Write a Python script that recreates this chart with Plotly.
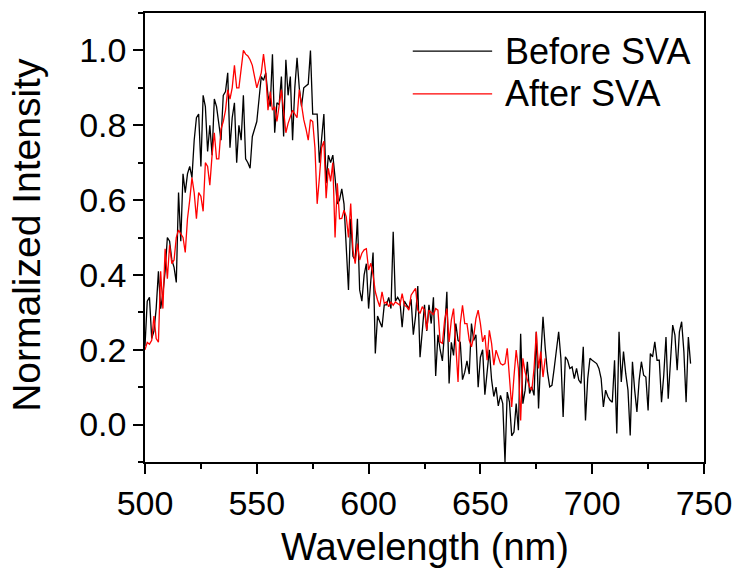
import plotly.graph_objects as go

# Before SVA (black), 1 nm steps starting at 500 nm
before_start = 500
before_sva = [
    0.21, 0.33, 0.34, 0.23, 0.25, 0.31, 0.41, 0.31, 0.35, 0.41,
    0.50, 0.49, 0.44, 0.42, 0.38, 0.62, 0.49, 0.67, 0.62, 0.67,
    0.69, 0.66, 0.76, 0.82, 0.83, 0.69, 0.88, 0.85, 0.73, 0.80,
    0.72, 0.87, 0.85, 0.80, 0.76, 0.88, 0.89, 0.94, 0.74, 0.82,
    0.86, 0.70, 0.80,
    0.76, 0.88, 0.71, 0.70, 0.685, 0.77, 0.79, 0.81, 0.87, 0.93,
    0.92, 0.94, 0.88, 0.85, 0.99, 0.78, 0.86, 0.855, 0.93, 0.77,
    0.975, 0.88, 0.93, 0.76, 0.90, 0.98, 0.90, 0.85, 0.90, 0.905,
    0.91, 1.00, 0.83, 0.83, 0.83, 0.70, 0.77, 0.83, 0.645, 0.72,
    0.70, 0.72,
    0.66, 0.59, 0.60, 0.63, 0.59, 0.48, 0.36, 0.55, 0.45, 0.44,
    0.55, 0.36, 0.33, 0.40, 0.43, 0.31, 0.40, 0.46, 0.19, 0.29,
    0.275, 0.26, 0.32, 0.32, 0.34, 0.31, 0.515, 0.33, 0.34, 0.33,
    0.26, 0.33, 0.32, 0.31, 0.335, 0.24, 0.29, 0.37, 0.18, 0.25,
    0.32, 0.25, 0.32,
    0.27, 0.34, 0.13, 0.24, 0.20, 0.17, 0.25, 0.355, 0.11, 0.22,
    0.185, 0.27, 0.225, 0.22, 0.12, 0.14, 0.17, 0.135, 0.27, 0.225,
    0.24, 0.10, 0.18, 0.20, 0.08, 0.15, 0.20, 0.12, 0.075, 0.10,
    0.05,
    0.078, 0.056, -0.10, 0.087, 0.06, -0.03, -0.02, 0.056, -0.015, 0.243,
    0.056, 0.092, 0.168, 0.083, 0.101, 0.078, 0.248, 0.043, 0.18, 0.288,
    0.204, 0.14, 0.101, 0.105, 0.15, 0.195, 0.248, 0.177, 0.020, 0.181,
    0.172, 0.150, 0.154, 0.123, 0.150, 0.119, 0.110, 0.208, 0.011, 0.123,
    0.177, 0.172, 0.168, 0.163, 0.150, 0.123, 0.047, 0.092, 0.075, 0.065,
    0.060, 0.172, -0.024, 0.248, 0.114, 0.195, 0.136, 0.092, -0.029, 0.168,
    0.092, 0.034, 0.119, 0.168, 0.132, 0.127, 0.038, 0.190, 0.181, 0.221,
    0.172, 0.172, 0.060, 0.132, 0.234, 0.069, 0.168, 0.266, 0.239, 0.145,
    0.248, 0.275, 0.195, 0.06, 0.234, 0.163,
]

# After SVA (red), 1 nm steps starting at 500 nm
after_start = 500
after_sva = [
    0.20, 0.22, 0.215, 0.225, 0.29, 0.23, 0.22, 0.41, 0.31, 0.47,
    0.39, 0.48, 0.43, 0.44, 0.50, 0.52, 0.51, 0.50, 0.46, 0.55,
    0.60, 0.66, 0.62, 0.55, 0.62, 0.61, 0.57, 0.70, 0.69, 0.64,
    0.72, 0.78, 0.71, 0.71, 0.79, 0.81, 0.84, 0.895, 0.87, 0.90,
    0.96, 0.90, 0.90,
    0.96, 1.00, 0.99, 0.985, 0.975, 0.96, 0.93, 0.90, 0.92, 0.94,
    0.99, 0.94, 0.84, 0.89, 0.84, 0.85, 0.81, 0.855, 0.895, 0.84,
    0.78, 0.805, 0.82, 0.84, 0.83, 0.82, 0.895, 0.855, 0.815, 0.79,
    0.76, 0.815, 0.81, 0.74, 0.59, 0.66, 0.74, 0.757, 0.605, 0.685,
    0.65, 0.70, 0.50,
    0.645, 0.55, 0.551, 0.573, 0.556, 0.50, 0.591, 0.467, 0.43, 0.484,
    0.44, 0.458, 0.467, 0.47, 0.413, 0.431, 0.40, 0.355, 0.333, 0.315,
    0.355, 0.324, 0.328, 0.315, 0.328, 0.319, 0.328, 0.324, 0.319, 0.350,
    0.319, 0.315, 0.306, 0.346, 0.355, 0.364, 0.306, 0.297, 0.315, 0.306,
    0.252,
    0.306, 0.30, 0.293, 0.31, 0.306, 0.221, 0.217, 0.279, 0.310, 0.221,
    0.279, 0.310, 0.208, 0.114, 0.270, 0.319, 0.270, 0.270, 0.226, 0.208,
    0.235, 0.283, 0.306, 0.270, 0.221, 0.239, 0.172, 0.252, 0.217, 0.159,
    0.199, 0.181, 0.163, 0.159, 0.163, 0.204, 0.119, 0.047, 0.127, 0.199,
    0.15, 0.011, 0.177, 0.14, 0.119, 0.101, 0.092, 0.15, 0.248, 0.15,
    0.195, 0.127, 0.177,
]

x_ticks = [500, 550, 600, 650, 700, 750]
y_ticks = [0.0, 0.2, 0.4, 0.6, 0.8, 1.0]
y_tick_labels = ["0.0", "0.2", "0.4", "0.6", "0.8", "1.0"]
series_names = ["Before SVA", "After SVA"]
series_colors = ["#000000", "#ff0000"]
x_title = "Wavelength (nm)"
y_title = "Normalized Intensity"

wl_before = list(range(before_start, before_start + len(before_sva)))
wl_after = list(range(after_start, after_start + len(after_sva)))

FONT = "Liberation Sans, Arial, sans-serif"

fig = go.Figure()
fig.add_trace(go.Scatter(x=wl_before, y=before_sva, mode="lines", name=series_names[0],
                         line=dict(color=series_colors[0], width=1.3), showlegend=False))
fig.add_trace(go.Scatter(x=wl_after, y=after_sva, mode="lines", name=series_names[1],
                         line=dict(color=series_colors[1], width=1.3), showlegend=False))

axis_common = dict(showgrid=False, zeroline=False, linecolor="black", linewidth=1.5,
                   tickcolor="black", tickwidth=1.5, automargin=False)

fig.update_layout(
    width=734, height=570,
    margin=dict(l=145, r=30, t=13, b=108, autoexpand=False),
    paper_bgcolor="white", plot_bgcolor="white",
    font=dict(family=FONT, color="black", size=30),
    xaxis=dict(range=[500, 750], tickvals=x_ticks, ticks="outside", ticklen=10,
               minor=dict(dtick=25, ticks="outside", ticklen=5, tickcolor="black", tickwidth=1.5),
               tickfont=dict(size=34), mirror=True, **axis_common),
    yaxis=dict(range=[-0.1, 1.1], tickvals=y_ticks, ticktext=y_tick_labels, ticks="outside", ticklen=10,
               minor=dict(dtick=0.1, ticks="outside", ticklen=5, tickcolor="black", tickwidth=1.5),
               tickfont=dict(size=34), mirror=True, **axis_common),
    xaxis2=dict(range=[500, 750], overlaying="x", side="top", tickvals=x_ticks, ticks="outside",
                ticklen=3, showticklabels=False, showline=False, showgrid=False, zeroline=False,
                tickcolor="black", tickwidth=1.5, automargin=False),
    yaxis2=dict(range=[-0.1, 1.1], overlaying="y", side="right", tickvals=y_ticks, ticks="outside",
                ticklen=3, showticklabels=False, showline=False, showgrid=False, zeroline=False,
                tickcolor="black", tickwidth=1.5, automargin=False),
)

# Axis titles
fig.add_annotation(xref="paper", yref="paper", x=0.5, y=-0.19, text=x_title, showarrow=False,
                   xanchor="center", yanchor="middle", font=dict(size=38, color="black", family=FONT))
fig.add_annotation(xref="paper", yref="paper", x=-0.211, y=0.506, text=y_title, showarrow=False,
                   textangle=-90, xanchor="center", yanchor="middle",
                   font=dict(size=39, color="black", family=FONT))

# Legend drawn as line samples + text labels in paper coordinates
legend_rows = [0.915, 0.820]
for name, color, yy in zip(series_names, series_colors, legend_rows):
    fig.add_shape(type="line", xref="paper", yref="paper", x0=0.479, x1=0.621, y0=yy, y1=yy,
                  line=dict(color=color, width=1.3))
    fig.add_annotation(xref="paper", yref="paper", x=0.640, y=yy, text=name, showarrow=False,
                       xanchor="left", yanchor="middle", font=dict(size=36, color="black", family=FONT))

fig.write_html("out.html", config={"displayModeBar": False},
               post_script="document.body.style.margin='0px';document.body.style.overflow='hidden';")
